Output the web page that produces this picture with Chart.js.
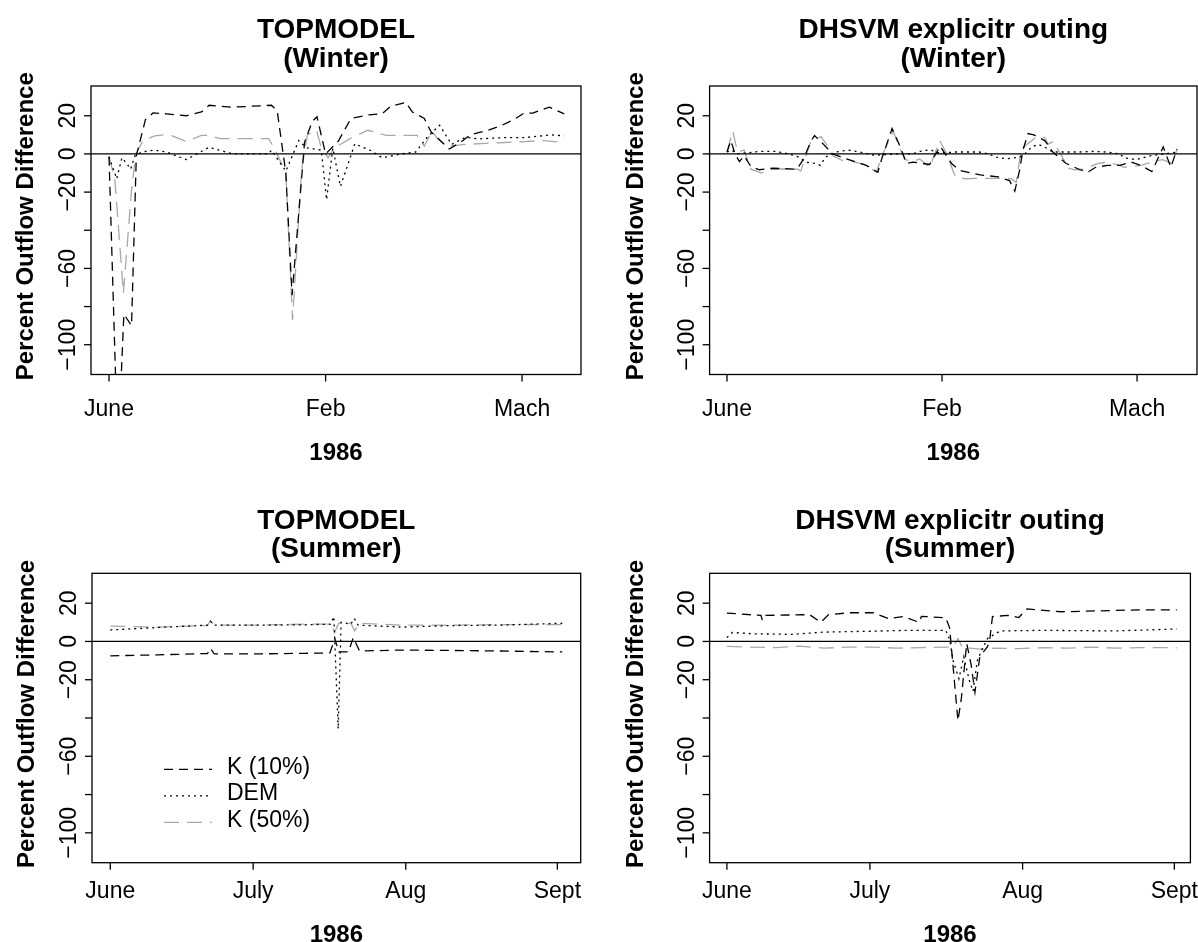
<!DOCTYPE html>
<html>
<head>
<meta charset="utf-8">
<script src="https://cdn.jsdelivr.net/npm/chart.js@4.4.1/dist/chart.umd.min.js"></script>
<style>
  body { margin: 0; background: #fff; }
  #fig { position: relative; width: 1198px; height: 942px; overflow: hidden; }
  #fig canvas { position: absolute; }
</style>
</head>
<body>
<div id="fig">
  <canvas id="tmWinter" width="599" height="471" style="left:0;top:0"></canvas>
  <canvas id="dhWinter" width="599" height="471" style="left:599px;top:0"></canvas>
  <canvas id="tmSummer" width="599" height="471" style="left:0;top:471px"></canvas>
  <canvas id="dhSummer" width="599" height="471" style="left:599px;top:471px"></canvas>
</div>
<script>
// axis ticks
const winterTicks = [0, 45.2, 86.2];
const winterTickLabels = ['June', 'Feb', 'Mach'];
const summerTicks = [0, 29.4, 60.8, 92];
const summerTickLabels = ['June', 'July', 'Aug', 'Sept'];
const yTicks = [-100, -80, -60, -40, -20, 0, 20];
const yTickLabels = ['\u2212100', '', '\u221260', '', '\u221220', '0', '20'];
const seriesNames = ['K (10%)', 'DEM', 'K (50%)'];

// TOPMODEL, winter
const tmWinK10Day = [0, 1.5, 2.4, 3.1, 4.7, 5.7, 7.6, 9.2, 12, 16.1, 19.3, 20.9, 25.8, 29.8, 33.9, 35.1, 36.9, 38.2, 40.8, 42.4, 43.4, 45.2, 47.8, 50.5, 54.2, 57, 58.8, 61.9, 63.3, 65.8, 67.2, 71, 73.3, 75.4, 79.2, 82, 84.5, 86.6, 88.4, 91.9, 95];
const tmWinK10 = [-1.5, -128, -125, -84, -90, -1, 18, 21.5, 21, 20, 22, 25.5, 24.5, 25, 25.5, 22.5, -10, -74, 6, 17, 19.5, 0, 6.5, 18.6, 20.5, 21, 25, 27, 22, 18.6, 11.6, 2.6, 6, 10, 12.5, 15, 18, 21.4, 21.4, 24.5, 21];
const tmWinDemDay = [0, 1.6, 2.7, 3.7, 4.5, 5.4, 6.8, 9.4, 12, 16.1, 20.9, 25.8, 33.3, 33.9, 36.9, 39.6, 41.2, 44.3, 45.4, 46.7, 48.3, 51.3, 54.6, 57, 61, 64, 66.5, 69, 71.5, 74.4, 77.2, 82, 86.6, 92.3, 95];
const tmWinDem = [-1.5, -13, -2, -5, -8, -1, 1, 2, 1, -3, 3.5, 0, 0, 2, -9, 7, 3.2, 2, -24, 3, -17, 5.3, 1.8, -2, 0, 1, 9, 15, 5, 8.7, 7.9, 8.5, 8.5, 10, 9.5];
const tmWinK50Day = [0, 1.2, 3, 4.7, 5.6, 7.1, 9.5, 11.5, 13.2, 16.1, 19.3, 21, 23.2, 33.3, 34.5, 36.9, 38.3, 40.2, 41.4, 43.3, 44.3, 45.7, 47, 50.3, 54, 57.9, 64.3, 65.8, 67.4, 68.5, 70.5, 74.4, 78.5, 82.5, 86.6, 90.6, 95];
const tmWinK50 = [-1.5, -13, -73, -19, 0, 7, 9.5, 10, 9.5, 6.5, 9.7, 9.7, 8, 8, 3, -10, -87, -8, 10, 12.5, 3, -2, 3, 8, 12.4, 9.7, 9.7, 4, 12, 8, 4, 5, 5.5, 6, 6.5, 7, 6];

// DHSVM, winter
const dhWinK10Day = [0, 0.8, 1.7, 2.6, 3.6, 5, 6.8, 9.6, 14.7, 16, 17.7, 18.4, 20.3, 22.2, 25.6, 29.3, 31.7, 32.6, 34.7, 36.5, 37.7, 39.1, 42.6, 44.8, 47.2, 48.9, 53.2, 57, 59.4, 60.5, 61.5, 62.2, 63.3, 64.5, 66.8, 68.5, 71.3, 74.2, 75.8, 77.5, 80, 82.6, 84.9, 87, 89.3, 91.7, 93.3, 94.6];
const dhWinK10 = [1, 7, 0, -4, -1, -6.5, -8.3, -7.5, -8, -3, 7, 9.6, 5, 0, -3, -6, -9.6, -2, 13.3, 3.3, -5, -4.3, -5.5, 4, -5, -8.6, -11, -12, -14, -19.5, -8.6, 2, 10.7, 10, 7, 1, -5, -8.3, -9.6, -7, -6, -6, -4.2, -6, -9.3, 3.7, -7, 2.6];
const dhWinDemDay = [0, 1, 2.2, 3.6, 6.8, 10.3, 13, 15.1, 16.5, 18.6, 19.6, 20.7, 22.8, 25.5, 27.9, 31, 36, 39, 40.5, 42.6, 44.7, 48, 53, 55, 56.6, 58.8, 61.5, 62.6, 64, 65.4, 66.5, 68.5, 74, 77, 79.8, 82.6, 83.5, 86, 89, 92, 94.6];
const dhWinDem = [1, 2, 0, 0.4, 1.3, 1.3, 0, -1.7, -4.3, -5, -6, -1.7, 1, 2, 1, -0.7, 0, 0, 1.3, 2.2, 0.5, 1, 1, 0, -1.7, -2.6, -1.7, 0, 3.5, 5, 4, 1, 1, 1.3, 1, 0, -2, -3, -1, 0, 1];
const dhWinK50Day = [0, 1.2, 2.2, 3.6, 5, 7.2, 9.6, 14.9, 15.5, 17.7, 19.8, 21.2, 22.2, 24.3, 25.8, 29.3, 31.4, 32.6, 34.9, 36.5, 37.5, 39, 40.5, 42.6, 44.7, 46, 48, 50, 53.2, 57, 59.8, 60.8, 61.8, 63, 65, 66.8, 67.5, 68.5, 70.5, 71.8, 73, 75, 78, 80, 82.6, 83.5, 87, 89.5, 91.6, 93.5, 94.6];
const dhWinK50 = [1, 12, 1, 2, -8, -10, -7.8, -8, -9, 7, 9, 4, -1, -3.5, -3.5, -6, -9.6, -1, 12, 2, -3, -4, -2.6, -7, 7, 1, -12, -13, -12.8, -12.8, -13, -15, 2, 5, 8.7, 8.7, 5, 6.5, -1.7, -7.5, -8.3, -8, -5, -4.3, -6, -7, -6, -4, -3, -5, 2];

// TOPMODEL, summer
const tmSumK10Day = [0, 10, 20, 20.6, 21.4, 30, 40, 45.2, 46.2, 47, 49, 50, 51.3, 60, 70, 80, 93];
const tmSumK10 = [-7.5, -7, -6.3, -3.5, -6.5, -6.5, -6.2, -6, 1.5, -5.5, -5.5, 2, -5, -4.5, -4.7, -5, -5.5];
const tmSumDemDay = [0, 10, 20, 20.6, 21.4, 30, 40, 45.3, 46, 46.9, 47.5, 49.5, 50.2, 51, 60, 70, 80, 93];
const tmSumDem = [6, 7.3, 8.5, 10.5, 8.5, 8.5, 8.7, 9, 13, -45.7, 10, 9, 12, 8.5, 7.5, 8.3, 8.5, 9.5];
const tmSumK50Day = [0, 10, 20, 20.6, 21.4, 30, 40, 45.3, 46.2, 47, 49.5, 50.3, 51.2, 60, 70, 80, 93];
const tmSumK50 = [8, 7.5, 8.3, 10.8, 8.5, 8.5, 9, 9, 5, 9.5, 9.5, 5.5, 9.5, 8.5, 8.5, 8.8, 8.8];

// DHSVM, summer
const dhSumK10Day = [0, 7, 7.3, 8, 17, 19.3, 20.9, 25.2, 30, 33.2, 36.3, 39.5, 40, 45, 45.8, 47.5, 48.2, 49.3, 50.2, 51, 52, 53.5, 54, 54.6, 57.8, 60, 61.7, 68.8, 76.6, 85, 92.5];
const dhSumK10 = [14.8, 13.6, 11, 13.6, 14, 10, 14, 15, 15, 12, 13, 10, 13.1, 12.4, 7, -41.4, -30, -1, -12, -26.5, -8, -3, 0, 13, 13.6, 12.5, 17, 15.5, 16, 16.5, 16.5];
const dhSumDemDay = [0, 1.1, 5.4, 13.4, 20.1, 29.2, 37.1, 45, 45.8, 46.5, 47.7, 48.7, 49.8, 50.6, 51.5, 52.5, 53.6, 56.2, 65, 80, 92.5];
const dhSumDem = [2, 4.7, 4, 3.7, 4.9, 5.3, 5.8, 5.8, 1, -10, -19.5, -8, -20, -26, -10, -4, 1.6, 5.5, 5.8, 5.5, 6.5];
const dhSumK50Day = [0, 5, 10, 15, 20, 25, 30, 35, 40, 45, 46.5, 47.5, 48.5, 50, 52, 55, 60, 65, 70, 75, 80, 85, 92.5];
const dhSumK50 = [-2.6, -3, -3.2, -2.5, -3.5, -3, -3, -3.5, -3.2, -3, -3, 1.5, -3.5, -3.5, -4, -3.5, -3.8, -3.2, -3.5, -3, -3.5, -3.2, -3.3];

const FONT = '"Liberation Sans", Arial, Helvetica, sans-serif';

function toPoints(days, values) {
  return days.map((d, i) => ({ x: d, y: values[i] }));
}

// base-graphics look: box, zero line, outward ticks, rotated y labels, titles, legend
const baseGraphics = {
  id: 'baseGraphics',
  afterDatasetsDraw(chart, args, o) {
    const { ctx, chartArea: a, scales: { x, y } } = chart;
    ctx.save();
    ctx.strokeStyle = '#000';
    ctx.fillStyle = '#000';
    ctx.lineWidth = 1.3;
    ctx.setLineDash([]);

    const y0 = y.getPixelForValue(0);
    ctx.beginPath();
    ctx.moveTo(a.left, y0);
    ctx.lineTo(a.right, y0);
    ctx.stroke();
    ctx.strokeRect(a.left, a.top, a.right - a.left, a.bottom - a.top);

    // x axis
    ctx.font = '23px ' + FONT;
    ctx.textAlign = 'center';
    ctx.textBaseline = 'alphabetic';
    o.xTicks.forEach((v, i) => {
      const px = x.getPixelForValue(v);
      ctx.beginPath();
      ctx.moveTo(px, a.bottom);
      ctx.lineTo(px, a.bottom + 7);
      ctx.stroke();
      ctx.fillText(o.xTickLabels[i], px, a.bottom + o.xLabelDy);
    });

    // y axis, labels turned parallel to the axis
    yTicks.forEach((v, i) => {
      const py = y.getPixelForValue(v);
      ctx.beginPath();
      ctx.moveTo(a.left, py);
      ctx.lineTo(a.left - 7, py);
      ctx.stroke();
      if (yTickLabels[i]) {
        ctx.save();
        ctx.translate(a.left - 16, py);
        ctx.rotate(-Math.PI / 2);
        ctx.fillText(yTickLabels[i], 0, 0);
        ctx.restore();
      }
    });

    const midX = (a.left + a.right) / 2;
    const midY = (a.top + a.bottom) / 2;
    ctx.font = 'bold 24px ' + FONT;
    ctx.fillText('1986', midX, a.bottom + o.xTitleDy);
    ctx.save();
    ctx.translate(a.left - o.yTitleDx, midY - 4);
    ctx.rotate(-Math.PI / 2);
    ctx.fillText('Percent Outflow Difference', 0, 0);
    ctx.restore();

    ctx.font = 'bold 28px ' + FONT;
    o.title.forEach((line, i) => ctx.fillText(line, midX, a.top + o.titleDy[i]));

    if (o.legend) {
      ctx.font = '23px ' + FONT;
      ctx.textAlign = 'left';
      ctx.textBaseline = 'middle';
      chart.data.datasets.forEach((ds, i) => {
        const ly = a.top + o.legend.dy + i * 26.5;
        ctx.strokeStyle = ds.borderColor;
        ctx.setLineDash(ds.borderDash);
        ctx.beginPath();
        ctx.moveTo(a.left + o.legend.dx, ly + 2);
        ctx.lineTo(a.left + o.legend.dx + 48, ly + 2);
        ctx.stroke();
        ctx.fillText(ds.label, a.left + o.legend.dx + 63, ly);
      });
    }
    ctx.restore();
  }
};

function drawPanel(id, p) {
  const styles = [
    { color: '#000000', dash: [9, 6] },
    { color: '#000000', dash: [2, 4] },
    { color: '#a8a8a8', dash: [15, 8] }
  ];
  new Chart(document.getElementById(id), {
    type: 'line',
    data: {
      datasets: p.series.map((s, i) => ({
        label: seriesNames[i],
        data: toPoints(s[0], s[1]),
        borderColor: styles[i].color,
        borderDash: styles[i].dash,
        borderWidth: 1.3,
        pointRadius: 0,
        tension: 0,
        fill: false
      }))
    },
    options: {
      responsive: false,
      animation: false,
      layout: { padding: p.pad },
      scales: {
        x: { type: 'linear', display: false, min: p.xMin, max: p.xMax },
        y: { type: 'linear', display: false, min: -115.6, max: 35.6 }
      },
      plugins: {
        legend: { display: false },
        tooltip: { enabled: false },
        baseGraphics: {
          xTicks: p.xTicks, xTickLabels: p.xTickLabels,
          title: p.title, titleDy: p.titleDy,
          xLabelDy: p.xLabelDy, xTitleDy: p.xTitleDy, yTitleDx: p.yTitleDx,
          legend: p.legend || null
        }
      }
    },
    plugins: [baseGraphics]
  });
}

drawPanel('tmWinter', {
  series: [[tmWinK10Day, tmWinK10], [tmWinDemDay, tmWinDem], [tmWinK50Day, tmWinK50]],
  pad: { left: 91, top: 86, right: 18, bottom: 96.5 },
  xMin: -3.76, xMax: 98.5, xTicks: winterTicks, xTickLabels: winterTickLabels,
  title: ['TOPMODEL', '(Winter)'], titleDy: [-47.7, -19.3],
  xLabelDy: 41.5, xTitleDy: 85.5, yTitleDx: 58
});
drawPanel('dhWinter', {
  series: [[dhWinK10Day, dhWinK10], [dhWinDemDay, dhWinDem], [dhWinK50Day, dhWinK50]],
  pad: { left: 110.6, top: 86, right: 1, bottom: 96.5 },
  xMin: -3.66, xMax: 98.8, xTicks: winterTicks, xTickLabels: winterTickLabels,
  title: ['DHSVM explicitr outing', '(Winter)'], titleDy: [-47.7, -19.3],
  xLabelDy: 41.5, xTitleDy: 85.5, yTitleDx: 67
});
drawPanel('tmSummer', {
  series: [[tmSumK10Day, tmSumK10], [tmSumDemDay, tmSumDem], [tmSumK50Day, tmSumK50]],
  pad: { left: 92, top: 102.3, right: 18.3, bottom: 79.3 },
  xMin: -3.76, xMax: 96.8, xTicks: summerTicks, xTickLabels: summerTickLabels,
  title: ['TOPMODEL', '(Summer)'], titleDy: [-44, -16],
  xLabelDy: 35.6, xTitleDy: 79, yTitleDx: 58,
  legend: { dx: 72, dy: 194 }
});
drawPanel('dhSummer', {
  series: [[dhSumK10Day, dhSumK10], [dhSumDemDay, dhSumDem], [dhSumK50Day, dhSumK50]],
  pad: { left: 110.6, top: 102.3, right: 7.6, bottom: 79.3 },
  xMin: -3.56, xMax: 95.3, xTicks: summerTicks, xTickLabels: summerTickLabels,
  title: ['DHSVM explicitr outing', '(Summer)'], titleDy: [-44, -16],
  xLabelDy: 35.6, xTitleDy: 79, yTitleDx: 67
});
</script>
</body>
</html>
